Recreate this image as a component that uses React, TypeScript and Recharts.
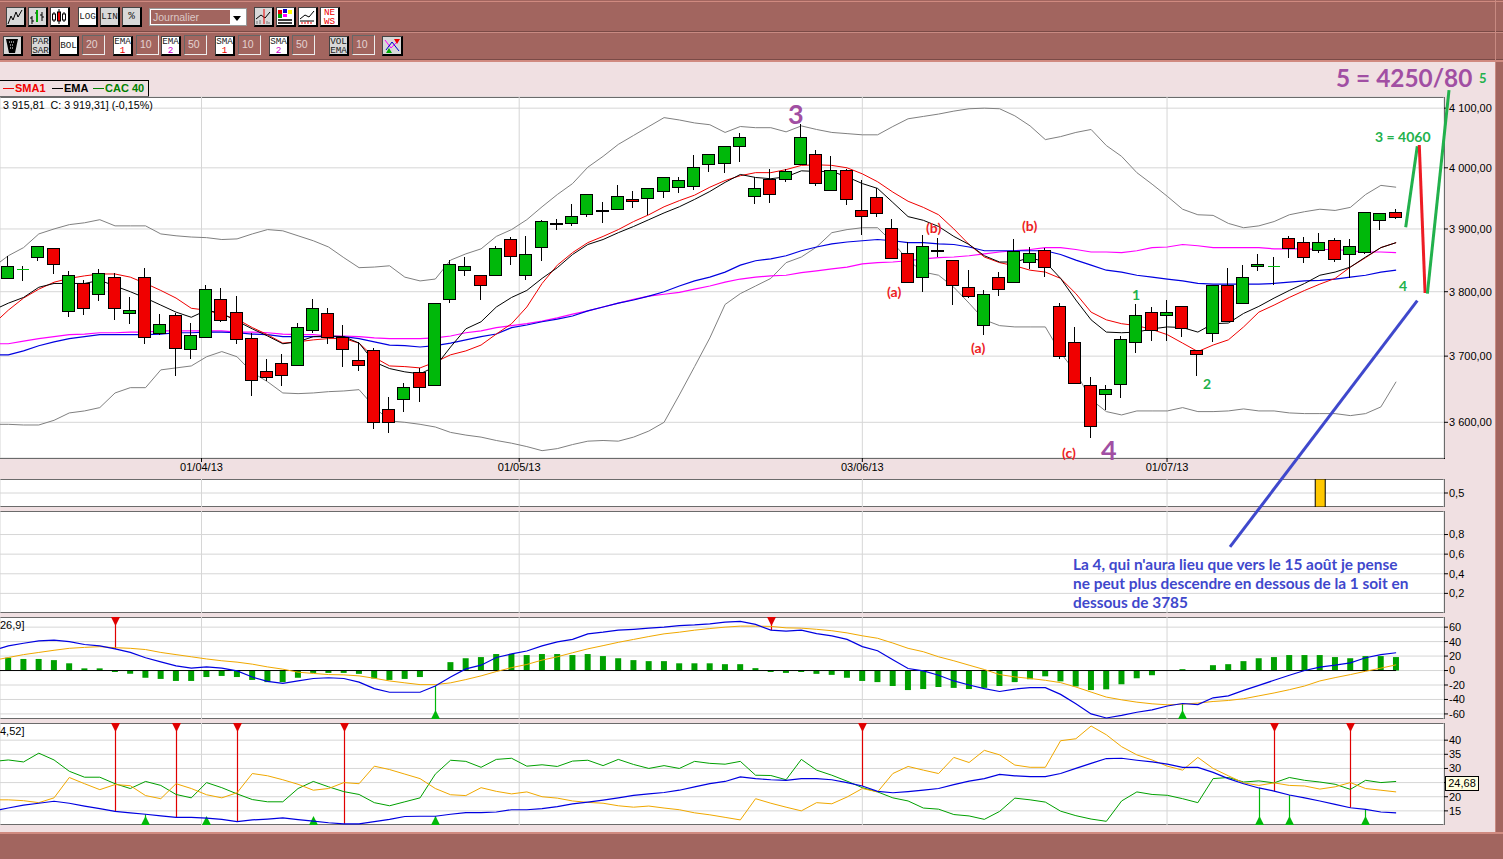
import React from 'react';
import { Bar, CartesianGrid, ComposedChart, Line, ReferenceLine, XAxis, YAxis } from 'recharts';

// Daily CAC 40 candles, one value per session
const opens = [3822,3835,3855,3869,3769,3813,3797,3823,3766,3824,3735,3763,3711,3729,3788,3768,3728,3677,3689,3686,3740,3766,3729,3694,3709,3620,3635,3676,3656,3788,3835,3827,3827,3884,3826,3871,3909,3909,3925,3929,3933,3949,3951,3961,3969,3970,4007,4008,4037,3954,3982,3982,4007,4023,3964,3997,3931,3952,3902,3861,3824,3865,3850,3808,3748,3823,3816,3847,3866,3777,3722,3656,3642,3658,3722,3768,3763,3777,3709,3735,3810,3783,3840,3840,3885,3879,3866,3882,3860,3863,3915,3928];
const highs = [3856,3841,3873,3869,3833,3819,3836,3829,3791,3837,3765,3767,3751,3810,3806,3794,3735,3695,3703,3751,3789,3774,3748,3722,3712,3638,3659,3682,3783,3850,3855,3827,3872,3887,3889,3915,3916,3941,3957,3943,3972,3962,3967,3984,3985,4021,4023,4037,4058,3985,3998,3998,4073,4030,4020,3998,3980,3966,3916,3879,3890,3885,3850,3835,3803,3831,3884,3871,3869,3783,3745,3668,3656,3731,3780,3776,3787,3777,3709,3810,3838,3842,3860,3855,3889,3887,3894,3885,3884,3928,3926,3933];
const lows = [3822,3817,3849,3828,3761,3764,3786,3756,3750,3719,3732,3669,3695,3729,3752,3719,3639,3662,3655,3686,3735,3718,3684,3677,3590,3584,3615,3631,3656,3782,3825,3787,3827,3843,3818,3848,3898,3904,3919,3909,3930,3934,3922,3950,3958,3963,3993,3991,4009,3940,3942,3976,4007,3970,3964,3939,3890,3919,3853,3815,3799,3855,3779,3790,3732,3793,3816,3836,3824,3696,3659,3576,3618,3637,3705,3724,3724,3730,3669,3722,3754,3781,3832,3811,3854,3845,3862,3847,3821,3859,3899,3916];
const closes = [3840,3835,3873,3844,3826,3775,3829,3775,3771,3729,3749,3712,3732,3805,3755,3726,3664,3668,3671,3745,3775,3729,3711,3686,3600,3600,3653,3653,3783,3844,3840,3810,3869,3856,3860,3913,3910,3921,3957,3930,3954,3946,3967,3984,3980,4002,4023,4037,4052,3967,3957,3995,4052,3975,3997,3949,3921,3926,3853,3815,3873,3866,3810,3794,3797,3805,3865,3861,3839,3700,3659,3595,3650,3726,3763,3740,3768,3743,3703,3810,3754,3824,3844,3840,3869,3855,3879,3852,3873,3928,3926,3920];

const bollUpper = [3857,3870,3892,3900,3907,3910,3915,3905,3905,3905,3892,3889,3887,3886,3883,3884,3892,3899,3897,3889,3881,3871,3854,3838,3839,3841,3823,3817,3820,3850,3860,3868,3888,3899,3915,3936,3956,3974,4001,4019,4039,4054,4069,4084,4080,4075,4072,4059,4069,4067,4067,4060,4070,4064,4059,4057,4055,4055,4069,4082,4086,4090,4095,4099,4100,4099,4087,4070,4047,4052,4059,4064,4037,4019,3992,3973,3953,3932,3923,3922,3909,3902,3905,3912,3923,3928,3932,3930,3935,3956,3971,3968];
const bollLower = [3597,3596,3596,3603,3614,3617,3622,3644,3652,3652,3679,3682,3685,3699,3707,3699,3675,3661,3644,3643,3644,3646,3647,3649,3623,3602,3600,3597,3593,3585,3581,3578,3573,3569,3564,3558,3561,3567,3572,3573,3572,3578,3587,3600,3641,3684,3728,3780,3797,3809,3821,3846,3855,3871,3894,3899,3902,3902,3878,3850,3831,3826,3807,3782,3756,3747,3745,3745,3745,3705,3675,3634,3616,3611,3617,3617,3617,3622,3616,3616,3617,3620,3617,3617,3614,3613,3613,3613,3610,3613,3623,3661];
const sma1 = [3771,3790,3804,3815,3821,3825,3828,3828,3823,3813,3802,3790,3774,3771,3764,3757,3744,3733,3720,3722,3725,3727,3727,3720,3698,3685,3684,3682,3691,3702,3708,3717,3734,3750,3776,3813,3842,3862,3878,3888,3899,3912,3923,3936,3946,3955,3968,3979,3987,3992,3992,3997,4004,4005,4004,4000,3990,3977,3960,3945,3935,3923,3900,3875,3855,3846,3841,3834,3831,3821,3797,3768,3756,3750,3747,3741,3733,3720,3707,3717,3725,3745,3768,3779,3791,3802,3812,3821,3839,3854,3870,3878];
const ema1 = [3782,3791,3807,3813,3813,3813,3818,3809,3800,3790,3779,3768,3760,3771,3766,3754,3742,3731,3719,3722,3730,3731,3730,3720,3691,3681,3676,3673,3684,3714,3742,3753,3776,3791,3802,3821,3838,3859,3875,3883,3894,3904,3915,3926,3936,3948,3961,3976,3989,3984,3982,3985,3995,3994,3994,3985,3974,3966,3943,3920,3914,3904,3888,3875,3857,3847,3847,3854,3847,3821,3787,3756,3737,3736,3737,3742,3745,3744,3737,3750,3751,3766,3777,3790,3802,3813,3826,3831,3839,3855,3870,3878];
const ema2 = [3702,3708,3716,3722,3727,3730,3733,3733,3733,3733,3734,3736,3736,3737,3737,3736,3734,3733,3730,3730,3730,3730,3730,3727,3722,3717,3716,3714,3716,3720,3725,3730,3734,3744,3748,3753,3757,3762,3770,3776,3782,3787,3793,3800,3809,3817,3823,3831,3842,3849,3852,3857,3865,3871,3876,3879,3881,3883,3881,3878,3878,3876,3875,3871,3865,3865,3865,3865,3865,3859,3850,3842,3834,3831,3826,3823,3820,3817,3813,3812,3812,3812,3812,3813,3815,3817,3818,3820,3823,3826,3831,3834];
const sma2 = [3719,3723,3727,3730,3733,3734,3736,3736,3737,3737,3739,3739,3739,3739,3739,3737,3737,3736,3734,3733,3733,3731,3731,3730,3728,3727,3727,3727,3728,3731,3736,3739,3744,3747,3750,3754,3759,3765,3770,3776,3782,3788,3793,3796,3799,3804,3809,3815,3820,3823,3825,3826,3830,3833,3836,3839,3844,3846,3847,3849,3852,3854,3855,3857,3860,3863,3865,3867,3870,3870,3867,3863,3863,3862,3865,3870,3871,3875,3873,3870,3870,3870,3870,3868,3868,3868,3867,3867,3865,3863,3863,3862];

const firstVisible = -0.544;
// where the lines enter at the left edge of the page, before the first whole session
const priceLeadIn = { x: firstVisible, bollUpper: 3847, bollLower: 3597, sma1: 3759, ema1: 3776, ema2: 3702, sma2: 3719 };

// Hand drawn Elliott wave legs, [session, price]
const waveThree = [[91.63,3903],[92.39,4036]];
const waveFour = [[92.52,4038],[92.9,3798]];
const waveFive = [[93.05,3797],[94.47,4131]];
const trendArrow = [[80.11,3419],[92.39,3786]];

const volumeBars = [86];

const macdHist = [17.7,16,16,14.4,10,3,3,-2,-4.6,-10,-11.6,-14.4,-14.4,-9,-7.5,-9,-13,-16,-16,-10,-3.3,-3.3,-3.3,-4.6,-11,-13,-11.6,-9,0,11.6,17,18.6,22.8,22.8,21.4,22.8,22.8,21.4,22.8,20,17,14.4,13,13,10,10,10,8.8,8.8,3.3,-2,-3.3,-2,-4.6,-6,-10,-14.4,-16,-21.4,-27,-25.6,-22.8,-24,-25.6,-24,-21.4,-16,-12,-8,-15,-22,-27,-26,-19,-10.7,-6.5,0,1.9,0,7.4,8.8,13,17,18.6,21.4,21.4,21.4,18.6,17,20,20,18.6];
const macdLine = [34,37.7,41,42,40,36,34,30,25,17.7,12,6.5,3.3,5,3.3,-0.5,-9,-15,-17.7,-14.4,-11,-10,-11,-16,-25,-30,-30,-30,-21.4,-9,2.3,7.4,18,23,27,34,39.5,43,50.7,53,55.8,57,58.6,60,62,63,64.6,67,68,63.7,55.8,54.4,55.8,51,48,43,33,27.4,15,2.8,-0.5,-6.5,-14.4,-20,-25,-29,-25.6,-23.7,-23.7,-33,-46,-60,-65.6,-62,-57.7,-54.4,-49,-45.6,-47,-37.7,-35,-27.4,-20.5,-13.5,-6.5,0,4.7,7.4,10.7,17.7,22,24.6];
const macdSignal = [18,22,25,28,30.7,32,33,31.6,30.7,29,25,22,19,16,13.5,11.6,8.8,5,1.9,-2.3,-4,-5.6,-6,-7.4,-10.7,-14.4,-17,-19.5,-19.5,-17,-12.5,-7.4,-1.4,4,8.4,14.4,19,24.6,30,34.4,39,43,47,50.7,53,55.8,58,60,61.4,61.4,61,59,58.6,57,55,52,48,44.6,38,30.7,26,19,13.5,7.4,1.4,-5.6,-8.8,-11,-13.5,-16.7,-22.8,-29.8,-36.7,-40.5,-43.7,-46,-47.4,-46.5,-45,-42.8,-41.4,-39,-35,-31,-26.5,-21.4,-14.4,-9.8,-5.6,-1,3.3,7.9];
const macdLeadIn = { x: firstVisible, macd: 30.7, signal: 15.8 };
const macdSellDays = [7,50];
const macdBuyDays = [28,77];

const diPlus = [33,32.3,35.4,33,29,26.9,26.9,24.6,22.9,25.4,24,20.8,19.6,25,23.2,21,19,18.2,18.2,22.9,25.4,23.5,21.8,20.8,17.9,16.8,18.2,19.6,28,32.9,32.5,30.4,33.2,33.6,30.8,31.3,30.7,32.6,32.9,31,33.2,31.4,30,31,30,32.5,31.8,31.5,32.5,27.6,27.5,26,33.2,29.4,27.6,25.5,23.2,21.7,19.6,18.5,16,15.6,13.7,13.2,12,14.8,19.5,18.9,18.1,14.9,13.3,12.1,11.3,18.5,21.7,20.8,20.5,19.3,17.9,26.4,26.8,25.2,25.6,24.9,26.8,25.8,25.2,24.4,22.6,25.8,25,25.4];
const diMinus = [18.9,18.6,17.9,19.6,26.8,24.6,22.5,24.3,23.9,20.4,19.3,24.6,22.9,20.7,19.6,21.4,28.2,27.4,26,24.4,22.3,22.9,25,24.6,30.8,29.6,28,26.4,22.9,20.7,20.4,23.2,21.9,21,21.7,20,19.5,18.5,18,17.7,16.8,16.3,16.7,16,15.4,14.3,13.6,12.7,11.8,19.3,17.7,16.3,15,17.9,17.5,19.9,22.9,21.7,28.2,30.7,29.4,28.2,33.9,32.1,36.4,34.8,31.2,30.4,30.4,39.8,40.5,45,41.9,37.7,34.8,33,30.8,29.4,33.9,30,27.4,24.9,24,24.9,24,23.8,22.7,23.5,25,22.9,22.3,21.7];
const adxLine = [16,17,17.7,18.4,17.7,16.7,15.8,14.8,14.3,13.8,13.2,12.7,12.7,12.4,12,11.2,11.8,12.1,12.5,11.9,11.4,10.8,10.4,10.4,11.2,12,13,13.1,13.1,13.8,14.4,14.4,14.6,15.4,15.4,15.8,16.5,17.5,18.1,18.8,19.6,20.5,21,21.5,22.3,23.5,24.6,25.4,27,26.4,26,25.8,26.4,26.4,26,25,23.8,21.9,21.4,21.8,22.3,22.9,24.3,25.5,26.4,27.9,27.4,27.1,27.1,28.2,30,31.8,33.5,33.6,32.9,32.3,31.5,30.4,30.4,28.6,26.4,24.6,23.1,22,20.6,19.6,18.5,17.3,16.1,15.5,14.6,14.3];
const adxLeadIn = { x: firstVisible, adx: 15.4, plus: 32.7, minus: 18.9 };
const adxSellDays = [7,11,15,22,56,83,88];
const adxBuyDays = [9,13,20,28,82,84,89];

const dateTicks = [12.67,33.5,56,75.98];
const dateLabels = ['01/04/13','01/05/13','03/06/13','01/07/13'];
const priceTicks = [3600,3700,3800,3900,4000,4100];
const volumeTicks = [0.5];
const rsiTicks = [0.2,0.4,0.6,0.8];
const macdTicks = [-60,-40,-20,0,20,40,60];
const adxTicks = [15,20,25,30,35,40];

const sessionDomain = [firstVisible,94.14];
const priceDomain = [3547.2,4119];
const macdDomain = [-67,74];
const adxDomain = [10,46.07];
// the drawn legs leave the price panel, so they get a page sized chart with wider domains
const pageSessionDomain = [firstVisible,98.01];
const pagePriceDomain = [3004.5,4288];

const candleRows = [
  priceLeadIn,
  ...opens.map((open, i) => ({
    x: i, open, high: highs[i], low: lows[i], close: closes[i], range: [lows[i], highs[i]],
    bollUpper: bollUpper[i], bollLower: bollLower[i], sma1: sma1[i], ema1: ema1[i], ema2: ema2[i], sma2: sma2[i],
  })),
];
const waveRows = (leg: number[][]) => leg.map(([x, y]) => ({ x, y }));
const volumeRows = opens.map((_, i) => ({ x: i, volume: volumeBars.includes(i) ? 1 : null }));
// this panel had nothing plotted on the day of the screenshot, the flat row only gives the axis a series
const emptyPanelRows = opens.map((_, i) => ({ x: i, flat: 0 }));
const macdRows = [
  macdLeadIn,
  ...macdHist.map((hist, i) => ({
    x: i, hist, macd: macdLine[i], signal: macdSignal[i],
    mark: macdSellDays.includes(i) ? [macdLine[i], macdDomain[1]] : macdBuyDays.includes(i) ? [macdDomain[0], macdLine[i]] : null,
    dir: macdSellDays.includes(i) ? 'sell' : 'buy',
  })),
];
const adxRows = [
  adxLeadIn,
  ...adxLine.map((adx, i) => ({
    x: i, adx, plus: diPlus[i], minus: diMinus[i],
    mark: adxSellDays.includes(i) ? [adx, adxDomain[1]] : adxBuyDays.includes(i) ? [adxDomain[0], adx] : null,
    dir: adxSellDays.includes(i) ? 'sell' : 'buy',
  })),
];

const AXIS_FONT = '"Liberation Sans", Arial, sans-serif';
const NOTE_FONT = 'Lato, "Noto Sans", sans-serif';
const BROWN = '#A2655F';
const PINK = '#F0E0E2';
const GRID = '#D6D6D6';

const axisTick = { fontSize: 11, fill: '#000', fontFamily: AXIS_FONT };

function Candle(props: any) {
  const { x, y, width, height, payload } = props;
  if (!payload.range) return null;
  const { open, high, low, close } = payload;
  const cx = Math.round(x + width / 2) - 0.5;
  const span = Math.log(high / low);
  const toY = (v: number) => (span === 0 ? y : y + (height * Math.log(high / v)) / span);
  const wick = <line x1={cx} x2={cx} y1={toY(high)} y2={toY(low)} stroke="#000" strokeWidth={1.2} shapeRendering="crispEdges" />;
  if (open === close) {
    return (
      <g>
        {wick}
        <line x1={cx - 6} x2={cx + 6} y1={toY(open)} y2={toY(open)} stroke="#00B80A" shapeRendering="crispEdges" />
      </g>
    );
  }
  const top = Math.round(toY(Math.max(open, close)));
  const bottom = Math.round(toY(Math.min(open, close)));
  return (
    <g>
      {wick}
      <rect
        x={cx - 6}
        y={top + 0.5}
        width={12}
        height={Math.max(bottom - top, 1)}
        fill={close > open ? '#00B80A' : '#F00000'}
        stroke="#000"
        strokeWidth={1.2}
        shapeRendering="crispEdges"
      />
    </g>
  );
}

function SignalMark(props: any) {
  const { x, y, width, height, payload } = props;
  if (!payload.mark) return null;
  const cx = Math.round(x + width / 2) + 0.5;
  const sell = payload.dir === 'sell';
  const color = sell ? '#E00000' : '#00B80A';
  const tip = sell ? y + 9 : y + height - 9;
  const base = sell ? y : y + height;
  return (
    <g>
      <line x1={cx} x2={cx} y1={y} y2={y + height} stroke={color} strokeWidth={1.2} />
      <path d={`M${cx - 4.5},${base}L${cx + 4.5},${base}L${cx},${tip}Z`} fill={color} />
    </g>
  );
}

const xAxisProps = {
  type: 'number' as const,
  dataKey: 'x',
  domain: sessionDomain,
  ticks: dateTicks,
  interval: 0 as const,
};

function yAxisProps(ticks: number[], domain: number[], format: (v: number) => string) {
  return {
    orientation: 'right' as const,
    width: 59,
    type: 'number' as const,
    domain,
    ticks,
    interval: 0 as const,
    axisLine: false,
    tick: axisTick,
    tickLine: { stroke: '#000' },
    tickSize: 4,
    tickMargin: 1,
    tickFormatter: format,
  };
}

const commaFormat = (v: number) => String(v).replace('.', ',');
const priceFormat = (v: number) => `${Math.floor(v / 1000)} ${String(v % 1000).padStart(3, '0')},00`;
// the 25 label sits under the last value box
const adxFormat = (v: number) => (v === 25 ? '' : commaFormat(v));

function PanelFrame({ top, bottom }: { top: number; bottom: number }) {
  return (
    <div
      style={{
        position: 'absolute',
        left: -2,
        top,
        width: 1447,
        height: bottom - top + 1,
        boxSizing: 'border-box',
        background: '#fff',
        border: '1px solid #000',
      }}
    />
  );
}

function Place({ top, children }: { top: number; children: React.ReactNode }) {
  return <div style={{ position: 'absolute', left: 0, top }}>{children}</div>;
}

function Note({ left, top, size, color, children }: any) {
  return (
    <div
      style={{
        position: 'absolute',
        left,
        top,
        fontFamily: NOTE_FONT,
        fontWeight: 700,
        fontSize: size,
        lineHeight: 1,
        color,
        whiteSpace: 'pre',
      }}
    >
      {children}
    </div>
  );
}

function Btn({ left, top, w = 20, bg = '#fff', children }: any) {
  return (
    <div
      style={{
        position: 'absolute',
        left,
        top,
        width: w,
        height: 20,
        boxSizing: 'border-box',
        background: bg,
        borderStyle: 'solid',
        borderWidth: '1px 2px 2px 1px',
        borderColor: '#444 #000 #000 #444',
        fontFamily: '"Liberation Mono", monospace',
        fontSize: 9.3,
        lineHeight: '9px',
        textAlign: 'center',
        color: '#222',
        display: 'flex',
        flexDirection: 'column',
        justifyContent: 'center',
        overflow: 'hidden',
      }}
    >
      {children}
    </div>
  );
}

function Field({ left, top, children }: any) {
  return (
    <div
      style={{
        position: 'absolute',
        left,
        top,
        width: 23,
        height: 20,
        boxSizing: 'border-box',
        background: BROWN,
        borderStyle: 'solid',
        borderWidth: 1,
        borderColor: '#666 #eee #eee #666',
        fontFamily: AXIS_FONT,
        fontSize: 10.5,
        lineHeight: '17px',
        paddingLeft: 3,
        color: '#E4D2D0',
      }}
    >
      {children}
    </div>
  );
}

function Icon({ children }: { children: React.ReactNode }) {
  return (
    <svg width={17} height={16} viewBox="0 0 17 16" style={{ display: 'block', margin: '0 auto' }}>
      {children}
    </svg>
  );
}

function Toolbar() {
  return (
    <div style={{ position: 'absolute', left: 0, top: 0, width: 1503, height: 62, background: BROWN }}>
      <div style={{ position: 'absolute', left: 0, top: 1, width: 1503, height: 1, background: '#D08A80' }} />
      <div style={{ position: 'absolute', left: 0, top: 31, width: 1503, height: 1, background: '#7A4A46' }} />
      <div style={{ position: 'absolute', left: 0, top: 32, width: 1503, height: 1, background: '#C88A82' }} />
      <div style={{ position: 'absolute', left: 0, top: 59, width: 1503, height: 1, background: '#7A4A46' }} />
      <div style={{ position: 'absolute', left: 0, top: 60, width: 1503, height: 2, background: '#D08A80' }} />

      <Btn left={6} top={7} bg="#D8D8D8">
        <Icon><path d="M1,15L4,7L6,11L9,3L11,8L15,1" fill="none" stroke="#000" /></Icon>
      </Btn>
      <Btn left={28} top={7} bg="#D8D8D8">
        <Icon><path d="M3,7V15M1,9H3M3,12H5M8,1V13M6,4H8M13,3V12M11,6H13M13,8H15" fill="none" stroke="#000" /><path d="M8,1V13" stroke="#0A0" strokeWidth={2} /></Icon>
      </Btn>
      <Btn left={50} top={7}>
        <Icon><path d="M3,3V13M8,0V15M13,3V13" stroke="#000" /><rect x={1.5} y={5} width={3} height={6} fill="#fff" stroke="#000" /><rect x={6.5} y={3} width={3} height={9} fill="#E00" stroke="#000" /><rect x={11.5} y={5} width={3} height={6} fill="#fff" stroke="#000" /></Icon>
      </Btn>
      <Btn left={78} top={7}>LOG</Btn>
      <Btn left={100} top={7} bg="#D8D8D8">LIN</Btn>
      <Btn left={122} top={7} bg="#D8D8D8"><span style={{ fontSize: 11 }}>%</span></Btn>

      <div style={{ position: 'absolute', left: 149, top: 8, width: 98, height: 18, boxSizing: 'border-box', background: '#fff', border: '1px solid #999' }}>
        <div style={{ position: 'absolute', left: 1, top: 1, width: 77, height: 14, background: BROWN, color: '#DCC8C6', fontFamily: AXIS_FONT, fontSize: 10.5, lineHeight: '14px', paddingLeft: 2 }}>Journalier</div>
        <svg width={10} height={6} style={{ position: 'absolute', left: 83, top: 7 }}><path d="M0,0H8L4,5Z" fill="#000" /></svg>
      </div>

      <Btn left={254} top={7} bg="#D8D8D8">
        <Icon><path d="M1,10L6,6L10,9L15,3" fill="none" stroke="#000" /><path d="M9,0V15" stroke="#E00" /><path d="M2,15V12M5,15V11M12,15V12M14,15V13" stroke="#777" /></Icon>
      </Btn>
      <Btn left={276} top={7}>
        <Icon><rect x={1} y={1} width={4} height={4} fill="#E00" /><rect x={6} y={0} width={4} height={4} fill="#00C" /><rect x={11} y={1} width={4} height={4} fill="#FF0" /><rect x={1} y={5} width={4} height={4} fill="#0A0" /><rect x={6} y={5} width={4} height={3} fill="#F0F" /><path d="M1,11H15M1,14H15" stroke="#000" strokeWidth={1.5} /></Icon>
      </Btn>
      <Btn left={298} top={7}>
        <Icon><path d="M1,10L6,6L10,8L15,2" fill="none" stroke="#000" /><path d="M1,12H15" stroke="#000" /><path d="M3,15V13M6,15V13M9,15V12M12,15V13" stroke="#E00" /></Icon>
      </Btn>
      <Btn left={320} top={7}><span style={{ color: '#E00' }}>NE<br />WS</span></Btn>

      <Btn left={3} top={36} bg="#D8D8D8">
        <Icon><path d="M2,1H14L11,15H5Z" fill="#000" /><path d="M5,4H11M6,7H10M6,10H10" stroke="#fff" strokeDasharray="1 1" /></Icon>
      </Btn>
      <Btn left={31} top={36} bg="#D8D8D8"><span>PAR<br />SAR</span></Btn>
      <Btn left={59} top={36}>BOL</Btn>
      <Field left={82} top={35}>20</Field>
      <Btn left={113} top={36}><span>EMA<br /><span style={{ color: '#E00' }}>1</span></span></Btn>
      <Field left={136} top={35}>10</Field>
      <Btn left={161} top={36}><span>EMA<br /><span style={{ color: '#C0C' }}>2</span></span></Btn>
      <Field left={184} top={35}>50</Field>
      <Btn left={215} top={36}><span>SMA<br /><span style={{ color: '#E00' }}>1</span></span></Btn>
      <Field left={238} top={35}>10</Field>
      <Btn left={269} top={36}><span>SMA<br /><span style={{ color: '#C0C' }}>2</span></span></Btn>
      <Field left={292} top={35}>50</Field>
      <Btn left={329} top={36} bg="#D8D8D8"><span>VOL<br />EMA</span></Btn>
      <Field left={352} top={35}>10</Field>
      <Btn left={382} top={36} w={21} bg="#D8D8D8">
        <Icon><path d="M1,2L7,10L14,3" fill="none" stroke="#F0F" /><path d="M2,12L8,4L15,13" fill="none" stroke="#00C" /><path d="M10,1H16L13,6Z" fill="#E00" /><path d="M2,15H8L5,10Z" fill="#0A0" /></Icon>
      </Btn>
    </div>
  );
}

function Legend() {
  const label = (left: number, color: string, text: string, dash: string) => (
    <>
      <div style={{ position: 'absolute', left: left - 12, top: 7, width: 11, height: 1, background: dash }} />
      <div style={{ position: 'absolute', left, top: 1, color, whiteSpace: 'pre' }}>{text}</div>
    </>
  );
  return (
    <div
      style={{
        position: 'absolute',
        left: -2,
        top: 80,
        width: 151,
        height: 17,
        boxSizing: 'border-box',
        border: '1px solid #000',
        fontFamily: AXIS_FONT,
        fontWeight: 700,
        fontSize: 11,
        lineHeight: '13px',
      }}
    >
      {label(16, '#F00000', 'SMA1', '#F00000')}
      {label(65, '#000', 'EMA', '#000')}
      {label(106, '#008000', 'CAC 40', '#008000')}
    </div>
  );
}

export default function App() {
  return (
    <div style={{ position: 'absolute', left: 0, top: 0, width: 1503, height: 859, overflow: 'hidden', background: PINK }}>
      <Toolbar />
      <div style={{ position: 'absolute', left: 1495, top: 0, width: 1, height: 859, background: '#C88A82' }} />
      <div style={{ position: 'absolute', left: 1496, top: 62, width: 7, height: 797, background: BROWN }} />
      <div style={{ position: 'absolute', left: 0, top: 832, width: 1503, height: 2, background: '#D08A80' }} />
      <div style={{ position: 'absolute', left: 0, top: 834, width: 1503, height: 25, background: BROWN }} />
      <Legend />

      <PanelFrame top={97} bottom={458} />
      <PanelFrame top={479} bottom={506} />
      <PanelFrame top={511} bottom={612} />
      <PanelFrame top={617} bottom={718} />
      <PanelFrame top={723} bottom={824} />

      <Place top={479}>
        <ComposedChart width={1503} height={28} data={volumeRows} margin={{ top: 0, right: 0, bottom: 0, left: 0 }}>
          <CartesianGrid stroke={GRID} />
          <XAxis {...xAxisProps} hide />
          <YAxis {...yAxisProps(volumeTicks, [0, 1], commaFormat)} />
          <Bar dataKey="volume" barSize={10} fill="#FFC800" stroke="#000" isAnimationActive={false} />
        </ComposedChart>
      </Place>

      <Place top={511}>
        <ComposedChart width={1503} height={102} data={emptyPanelRows} margin={{ top: 0, right: 0, bottom: 0, left: 0 }}>
          <CartesianGrid stroke={GRID} />
          <XAxis {...xAxisProps} hide />
          <YAxis {...yAxisProps(rsiTicks, [0, 1.04], commaFormat)} />
          <Line dataKey="flat" stroke="none" dot={false} isAnimationActive={false} />
        </ComposedChart>
      </Place>

      <Place top={617}>
        <ComposedChart width={1503} height={102} data={macdRows} margin={{ top: 0, right: 0, bottom: 0, left: 0 }}>
          <CartesianGrid stroke={GRID} />
          <XAxis {...xAxisProps} hide />
          <XAxis {...xAxisProps} xAxisId="marks" hide />
          <YAxis {...yAxisProps(macdTicks, macdDomain, commaFormat)} />
          <Bar dataKey="hist" barSize={6} fill="#00A000" isAnimationActive={false} />
          <ReferenceLine segment={[{ x: sessionDomain[0], y: 0 }, { x: 91, y: 0 }]} stroke="#000" />
          <Line dataKey="signal" stroke="#F0A800" strokeWidth={1} dot={false} isAnimationActive={false} />
          <Line dataKey="macd" stroke="#0000E0" strokeWidth={1.2} dot={false} isAnimationActive={false} />
          <Bar dataKey="mark" xAxisId="marks" barSize={8} shape={SignalMark} isAnimationActive={false} />
        </ComposedChart>
      </Place>

      <Place top={723}>
        <ComposedChart width={1503} height={102} data={adxRows} margin={{ top: 0, right: 0, bottom: 0, left: 0 }}>
          <CartesianGrid stroke={GRID} />
          <XAxis {...xAxisProps} hide />
          <YAxis {...yAxisProps(adxTicks, adxDomain, adxFormat)} />
          <Line dataKey="plus" stroke="#00A000" strokeWidth={1} dot={false} isAnimationActive={false} />
          <Line dataKey="minus" stroke="#F0A800" strokeWidth={1} dot={false} isAnimationActive={false} />
          <Line dataKey="adx" stroke="#0000E0" strokeWidth={1.2} dot={false} isAnimationActive={false} />
          <Bar dataKey="mark" barSize={8} shape={SignalMark} isAnimationActive={false} />
        </ComposedChart>
      </Place>

      <Place top={0}>
        <ComposedChart width={1503} height={859} data={candleRows} margin={{ top: 97, right: 0, bottom: 381, left: 0 }}>
          <CartesianGrid stroke={GRID} />
          <XAxis
            {...xAxisProps}
            height={20}
            axisLine={false}
            tick={axisTick}
            tickLine={{ stroke: '#000' }}
            tickSize={4}
            tickMargin={1}
            tickFormatter={(v: number) => dateLabels[dateTicks.indexOf(v)]}
          />
          <YAxis {...yAxisProps(priceTicks, priceDomain, priceFormat)} scale="log" />
          <Line dataKey="bollUpper" stroke="#808080" strokeWidth={1} dot={false} isAnimationActive={false} />
          <Line dataKey="bollLower" stroke="#808080" strokeWidth={1} dot={false} isAnimationActive={false} />
          <Line dataKey="sma2" stroke="#FF00FF" strokeWidth={1.2} dot={false} isAnimationActive={false} />
          <Line dataKey="ema2" stroke="#0000E0" strokeWidth={1.2} dot={false} isAnimationActive={false} />
          <Line dataKey="sma1" stroke="#F00000" strokeWidth={1} dot={false} isAnimationActive={false} />
          <Line dataKey="ema1" stroke="#000" strokeWidth={1} dot={false} isAnimationActive={false} />
          <Bar dataKey="range" barSize={12} shape={Candle} isAnimationActive={false} zIndex={450} />
        </ComposedChart>
      </Place>

      <div style={{ position: 'absolute', left: 3, top: 99, fontFamily: AXIS_FONT, fontSize: 10.7, lineHeight: '13px', whiteSpace: 'pre' }}>
        3 915,81  C: 3 919,31] (-0,15%)
      </div>
      <div style={{ position: 'absolute', left: 0, top: 619, fontFamily: AXIS_FONT, fontSize: 11, lineHeight: '13px' }}>26,9]</div>
      <div style={{ position: 'absolute', left: 0, top: 725, fontFamily: AXIS_FONT, fontSize: 11, lineHeight: '13px' }}>4,52]</div>
      <div
        style={{
          position: 'absolute',
          left: 1445,
          top: 776,
          width: 34,
          height: 15,
          boxSizing: 'border-box',
          background: '#FFFFE0',
          border: '1px solid #000',
          fontFamily: AXIS_FONT,
          fontSize: 11,
          lineHeight: '13px',
          textAlign: 'center',
        }}
      >
        24,68
      </div>

      <Place top={0}>
        <ComposedChart width={1503} height={859} margin={{ top: 0, right: 0, bottom: 0, left: 0 }}>
          <XAxis type="number" dataKey="x" domain={pageSessionDomain} hide />
          <YAxis type="number" domain={pagePriceDomain} scale="log" width={0} hide />
          <Line data={waveRows(waveThree)} dataKey="y" stroke="#22B14C" strokeWidth={3} dot={false} activeDot={false} isAnimationActive={false} />
          <Line data={waveRows(waveFour)} dataKey="y" stroke="#ED1C24" strokeWidth={3} dot={false} activeDot={false} isAnimationActive={false} />
          <Line data={waveRows(waveFive)} dataKey="y" stroke="#22B14C" strokeWidth={3} dot={false} activeDot={false} isAnimationActive={false} />
          <Line data={waveRows(trendArrow)} dataKey="y" stroke="#3F48CC" strokeWidth={3} dot={false} activeDot={false} isAnimationActive={false} />
        </ComposedChart>
      </Place>

      <Note left={788} top={100} size={27} color="#A14FA3">3</Note>
      <Note left={1101} top={436} size={27} color="#A14FA3">4</Note>
      <Note left={1336} top={66} size={24.4} color="#A14FA3">5 = 4250/80</Note>
      <Note left={1479} top={72} size={13} color="#22B14C">5</Note>
      <Note left={1375} top={130} size={14} color="#22B14C">3 = 4060</Note>
      <Note left={1399} top={279} size={14} color="#22B14C">4</Note>
      <Note left={1132} top={288} size={14} color="#22B14C">1</Note>
      <Note left={1203} top={377} size={14} color="#22B14C">2</Note>
      <Note left={926} top={221} size={14} color="#ED1C24">(b)</Note>
      <Note left={1022} top={219} size={14} color="#ED1C24">(b)</Note>
      <Note left={887} top={285} size={14} color="#ED1C24">(a)</Note>
      <Note left={971} top={341} size={14} color="#ED1C24">(a)</Note>
      <Note left={1062} top={446} size={14} color="#ED1C24">(c)</Note>
      <Note left={1073} top={557} size={15.4} color="#3F48CC">La 4, qui n'aura lieu que vers le 15 août je pense</Note>
      <Note left={1073} top={576} size={15.4} color="#3F48CC">ne peut plus descendre en dessous de la 1 soit en</Note>
      <Note left={1073} top={595} size={15.4} color="#3F48CC">dessous de 3785</Note>
    </div>
  );
}
